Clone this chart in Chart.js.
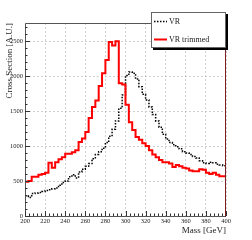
<!DOCTYPE html>
<html>
<head>
<meta charset="utf-8">
<script src="https://cdn.jsdelivr.net/npm/chart.js@4"></script>
<style>
  html, body { margin: 0; padding: 0; background: #fff; }
  #wrap { width: 252px; height: 240px; }
</style>
</head>
<body>
<div id="wrap"><canvas id="hist" width="252" height="240"></canvas></div>
<script>
// histogram binning: 60 bins between 200 and 400 GeV
const massMin = 200;
const massMax = 400;
const nBins = 60;

const xTicks = [200, 220, 240, 260, 280, 300, 320, 340, 360, 380, 400];
const yTicks = [0, 500, 1000, 1500, 2000, 2500];

const seriesNames = ['VR', 'VR trimmed'];

const vr = [
  285, 265, 320, 330, 335, 350, 365, 375, 390, 400,
  440, 480, 500, 560, 590, 545, 630, 670, 710, 750,
  820, 880, 920, 970, 1050, 1140, 1240, 1360, 1540, 1730,
  2010, 2060, 2040, 1960, 1850, 1740, 1660, 1560, 1450, 1360,
  1270, 1170, 1100, 1050, 1020, 990, 960, 920, 900, 880,
  850, 830, 790, 760, 750, 770, 760, 740, 730, 720
];

const vrTrimmed = [
  490, 500, 560, 560, 590, 600, 620, 760, 690, 770,
  810, 840, 890, 890, 910, 940, 1060, 1110, 1200, 1400,
  1560, 1650, 1860, 2040, 2230, 2490, 2440, 2500, 1900, 1880,
  1590, 1340, 1230, 1130, 1090, 1040, 1000, 940, 880, 840,
  800, 770, 770, 750, 700, 730, 710, 690, 680, 650,
  640, 640, 670, 660, 620, 600, 620, 590, 570, 570
];

// bin low edges + final upper edge for a stepped line
function toSteps(values) {
  const w = (massMax - massMin) / nBins;
  const pts = values.map((v, i) => ({ x: massMin + i * w, y: v }));
  pts.push({ x: massMax, y: values[values.length - 1] });
  return pts;
}

const serif = "'Liberation Serif', 'DejaVu Serif', serif";

const rootFrame = {
  id: 'rootFrame',
  afterDatasetsDraw(chart) {
    const { ctx, chartArea: a, scales } = chart;
    const xs = scales.x, ys = scales.y;
    ctx.save();

    // frame
    ctx.lineWidth = 1;
    ctx.strokeStyle = '#555';
    ctx.beginPath();
    ctx.moveTo(a.right, a.top + 0.5);
    ctx.lineTo(a.left + 0.5, a.top + 0.5);
    ctx.lineTo(a.left + 0.5, a.bottom + 0.5);
    ctx.lineTo(a.right, a.bottom + 0.5);
    ctx.stroke();
    ctx.strokeStyle = '#7a2020';
    ctx.beginPath();
    ctx.moveTo(a.right - 0.5, a.top);
    ctx.lineTo(a.right - 0.5, a.bottom + 1);
    ctx.stroke();

    // inward ticks, ROOT style
    ctx.strokeStyle = '#333';
    ctx.beginPath();
    for (let m = massMin; m <= massMax; m += 4) {
      const px = Math.round(xs.getPixelForValue(m)) + 0.5;
      const len = (m % 20 === 0) ? 5 : 2.5;
      ctx.moveTo(px, a.bottom);
      ctx.lineTo(px, a.bottom - len);
    }
    for (let v = 0; v <= ys.max; v += 100) {
      const py = Math.round(ys.getPixelForValue(v)) + 0.5;
      const len = (v % 500 === 0) ? 5 : 2.5;
      ctx.moveTo(a.left, py);
      ctx.lineTo(a.left + len, py);
    }
    ctx.stroke();

    // axis titles
    ctx.fillStyle = '#222';
    ctx.font = '9px ' + serif;
    ctx.textAlign = 'right';
    ctx.textBaseline = 'alphabetic';
    ctx.fillText('Mass [GeV]', a.right, 233);
    ctx.translate(12, a.top);
    ctx.rotate(-Math.PI / 2);
    ctx.fillText('Cross Section [A.U.]', 0, 0);
    ctx.restore();

    // legend box with shadow
    ctx.save();
    const lx = 151, ly = 12, lw = 75, lh = 36;
    ctx.fillStyle = '#000';
    ctx.fillRect(lx + 2, ly + 2, lw, lh);
    ctx.fillStyle = '#fff';
    ctx.fillRect(lx, ly, lw, lh);
    ctx.strokeStyle = '#666';
    ctx.lineWidth = 1;
    ctx.strokeRect(lx + 0.5, ly + 0.5, lw - 1, lh - 1);

    const ds = chart.data.datasets;
    const rows = [21, 39];
    ctx.font = '8px ' + serif;
    ctx.textAlign = 'left';
    ctx.textBaseline = 'middle';
    ds.forEach((d, i) => {
      ctx.strokeStyle = d.borderColor;
      ctx.lineWidth = d.borderWidth;
      ctx.setLineDash(d.borderDash || []);
      ctx.beginPath();
      ctx.moveTo(lx + 3, rows[i] + 0.5);
      ctx.lineTo(lx + 16, rows[i] + 0.5);
      ctx.stroke();
      ctx.setLineDash([]);
      ctx.fillStyle = '#222';
      ctx.fillText(d.label, lx + 18, rows[i] + 0.5);
    });
    ctx.restore();
  }
};

new Chart('hist', {
  type: 'line',
  data: {
    datasets: [{
      label: seriesNames[0],
      data: toSteps(vr),
      borderColor: '#000',
      borderWidth: 1.5,
      borderDash: [1.5, 1.5],
      stepped: true,
      pointRadius: 0,
      fill: false,
      order: 2
    }, {
      label: seriesNames[1],
      data: toSteps(vrTrimmed),
      borderColor: '#ff0000',
      borderWidth: 2,
      stepped: true,
      pointRadius: 0,
      fill: false,
      order: 1
    }]
  },
  plugins: [rootFrame],
  options: {
    responsive: false,
    animation: false,
    events: [],
    layout: { padding: { top: 23, right: 26, left: 0, bottom: 0 } },
    plugins: { legend: { display: false }, tooltip: { enabled: false } },
    scales: {
      x: {
        type: 'linear',
        min: massMin,
        max: massMax,
        afterFit: s => { s.height = 24; },
        afterBuildTicks: s => { s.ticks = xTicks.map(v => ({ value: v })); },
        ticks: {
          autoSkip: false,
          maxRotation: 0,
          padding: 1,
          color: '#222',
          font: { family: serif, size: 6.5 },
          callback: v => String(v)
        },
        grid: { color: '#c4c4c4', lineWidth: 0.8, drawTicks: false },
        border: { display: false, dash: [2, 2] }
      },
      y: {
        min: 0,
        max: 2760,
        afterFit: s => { s.width = 25; },
        afterBuildTicks: s => { s.ticks = yTicks.map(v => ({ value: v })); },
        ticks: {
          padding: 2,
          color: '#222',
          font: { family: serif, size: 6.5 },
          callback: v => String(v)
        },
        grid: { color: '#c4c4c4', lineWidth: 0.8, drawTicks: false },
        border: { display: false, dash: [2, 2] }
      }
    }
  }
});
</script>
</body>
</html>
